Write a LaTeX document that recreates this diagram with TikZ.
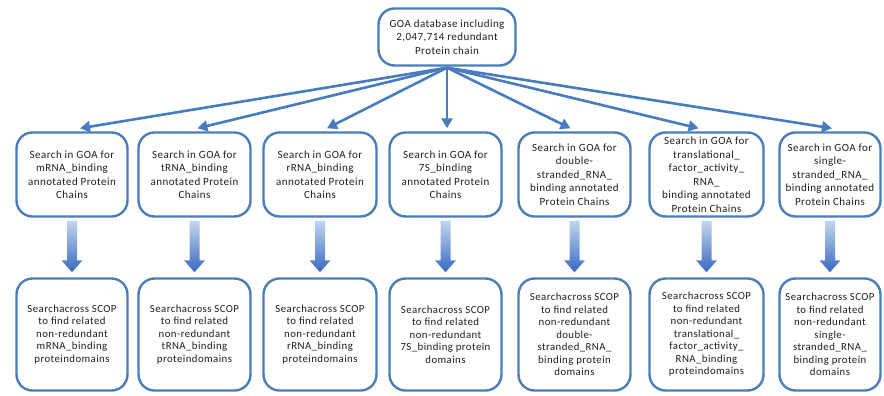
\documentclass[tikz,border=0pt]{standalone}
\usepackage{fontspec}
\setmainfont{Carlito}[LetterSpace=4]
\usetikzlibrary{calc,arrows.meta}
\definecolor{boxblue}{RGB}{74,126,187}
\definecolor{arrblue}{RGB}{72,124,190}
\definecolor{shadetop}{RGB}{196,213,238}
\definecolor{shadebot}{RGB}{55,106,192}
\tikzset{
  box/.style={draw=boxblue, line width=2.4pt, rounded corners=16pt, fill=white,
    align=center, inner sep=2pt, text=black!88},
  goabox/.style={box, minimum height=84pt, font=\fontsize{11}{13.5}\selectfont},
  scopbox/.style={box, minimum height=112pt, font=\fontsize{10.8}{12.5}\selectfont},
  topbox/.style={box, minimum width=137pt, minimum height=57pt, font=\fontsize{11}{13.5}\selectfont},
  fanarrow/.style={draw=arrblue, line width=2.6pt, -{Triangle[length=10pt,width=11pt]}},
  blockarrow/.style={top color=shadetop, bottom color=shadebot, draw=none}
}
\newcommand{\blockarr}[2]{%
  \path[blockarrow]
    ($(#1.south)+(-5,3)$) -- ($(#1.south)+(5,3)$) --
    ($(#1.south |- #2.north)+(5,-17)$) -- ($(#1.south |- #2.north)+(10.5,-17)$) --
    ($(#1.south |- #2.north)+(0,-5)$) --
    ($(#1.south |- #2.north)+(-10.5,-17)$) -- ($(#1.south |- #2.north)+(-5,-17)$) -- cycle;}
\begin{document}
\begin{tikzpicture}[x=1pt,y=-1pt]
\useasboundingbox (0,0) rectangle (884,396);

\node[topbox] (top) at (447,37) {GOA database including\\2,047,714 redundant\\Protein chain};
\coordinate (o) at ($(top.south)+(0,1)$);

% row 1
\node[goabox, minimum width=111pt] (g1) at (72,174.5) {Search in GOA for\\mRNA\_binding\\annotated Protein\\Chains};
\node[goabox, minimum width=112pt] (g2) at (194.5,174.5) {Search in GOA for\\tRNA\_binding\\annotated Protein\\Chains};
\node[goabox, minimum width=113pt] (g3) at (320,174.5) {Search in GOA for\\rRNA\_binding\\annotated Protein\\Chains};
\node[goabox, minimum width=112pt] (g4) at (445.5,174.5) {Search in GOA for\\7S\_binding\\annotated Protein\\Chains};
\node[goabox, minimum width=112pt] (g5) at (574.5,174.5) {Search in GOA for\\double-\\stranded\_RNA\_\\binding annotated\\Protein Chains};
\node[goabox, minimum width=114pt] (g6) at (706.5,174.5) {Search in GOA for\\translational\_\\factor\_activity\_\\RNA\_\\binding annotated\\Protein Chains};
\node[goabox, minimum width=101pt] (g7) at (830,174.5) {Search in GOA for\\single-\\stranded\_RNA\_\\binding annotated\\Protein Chains};

% row 2
\node[scopbox, minimum width=111pt] (s1) at (72,334.5) {Searchacross SCOP\\to find related\\non-redundant\\mRNA\_binding\\proteindomains};
\node[scopbox, minimum width=112pt] (s2) at (194.5,334.5) {Searchacross SCOP\\to find related\\non-redundant\\tRNA\_binding\\proteindomains};
\node[scopbox, minimum width=113pt] (s3) at (320,334.5) {Searchacross SCOP\\to find related\\non-redundant\\rRNA\_binding\\proteindomains};
\node[scopbox, minimum width=112pt] (s4) at (445.5,334.5) {Searchacross SCOP\\to find related\\non-redundant\\7S\_binding protein\\domains};
\node[scopbox, minimum width=112pt] (s5) at (574.5,334.5) {Searchacross SCOP\\to find related\\non-redundant\\double-\\stranded\_RNA\_\\binding protein\\domains};
\node[scopbox, minimum width=114pt] (s6) at (706.5,334.5) {Searchacross SCOP\\to find related\\non-redundant\\translational\_\\factor\_activity\_\\RNA\_binding\\proteindomains};
\node[scopbox, minimum width=101pt] (s7) at (830,334.5) {Searchacross SCOP\\to find related\\non-redundant\\single-\\stranded\_RNA\_\\binding protein\\domains};

% fan arrows
\draw[fanarrow] (o) -- ($(g1.north)+(8,-3)$);
\draw[fanarrow] (o) -- ($(g2.north)+(3,-3)$);
\draw[fanarrow] (o) -- ($(g3.north)+(7,-3)$);
\draw[fanarrow] (o) -- ($(g4.north)+(1.5,-3)$);
\draw[fanarrow] (o) -- ($(g5.north)+(-4,-3)$);
\draw[fanarrow] (o) -- ($(g6.north)+(-8,-3)$);
\draw[fanarrow] (o) -- ($(g7.north)+(2,-3)$);

% block arrows
\blockarr{g1}{s1}
\blockarr{g2}{s2}
\blockarr{g3}{s3}
\blockarr{g4}{s4}
\blockarr{g5}{s5}
\blockarr{g6}{s6}
\blockarr{g7}{s7}
\end{tikzpicture}
\end{document}
